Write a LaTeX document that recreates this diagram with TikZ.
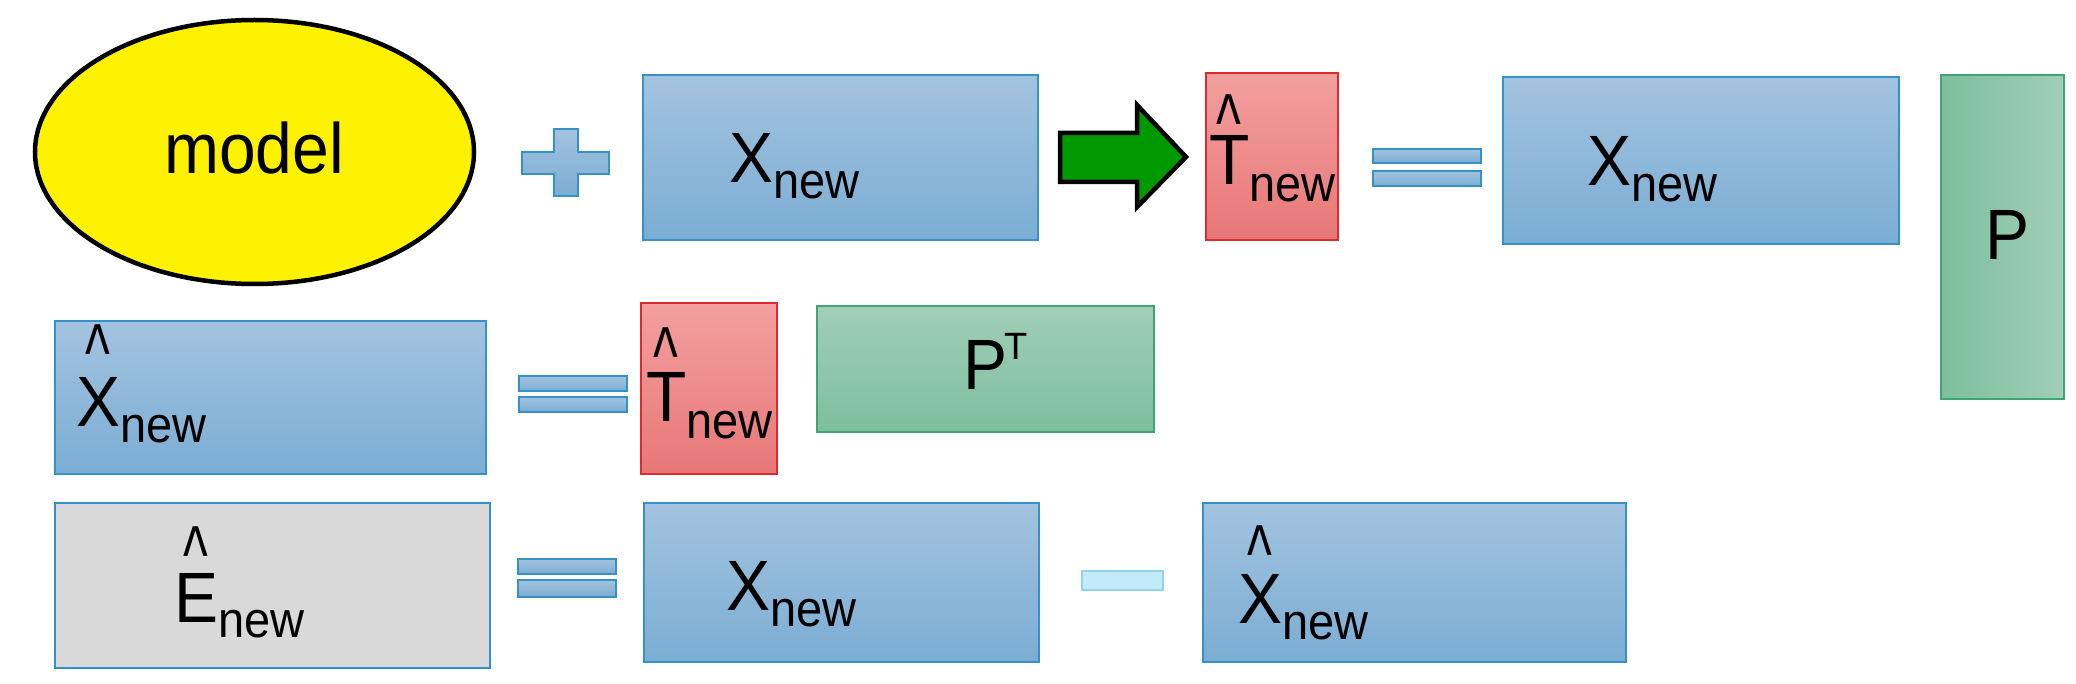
\documentclass[tikz,border=0pt]{standalone}
\usepackage{fontspec}
\setmainfont{Liberation Sans}
\usetikzlibrary{shapes.geometric}
\definecolor{bluetop}{HTML}{A3C3E0}
\definecolor{bluebot}{HTML}{7BADD3}
\definecolor{blueline}{HTML}{3592C6}
\definecolor{redtop}{HTML}{F2A09F}
\definecolor{redbot}{HTML}{E87777}
\definecolor{redline}{HTML}{DD2A2E}
\definecolor{greenlt}{HTML}{A1CEB7}
\definecolor{greendk}{HTML}{7DBF9D}
\definecolor{greenline}{HTML}{40A575}
\definecolor{graybox}{HTML}{D9D9D9}
\definecolor{minusfill}{HTML}{C2EAF9}
\definecolor{minusline}{HTML}{8FD3EE}
\definecolor{arrowgreen}{HTML}{009900}
\newcommand{\sub}[1]{\raisebox{-16pt}{\fontsize{47}{47}\selectfont\scalebox{1}[1.08]{#1}}}
\newcommand{\hatted}[2][0.6em]{\ooalign{\scalebox{1}[1.08]{#2}\cr\hidewidth\raisebox{#1}{\scalebox{0.8}[1.25]{\char"5E}}\hidewidth\cr}}
\begin{document}
\begin{tikzpicture}[x=1pt,y=-1pt,
  box/.style={rectangle, draw, line width=2pt, inner sep=0pt},
  bluebox/.style={box, draw=blueline, top color=bluetop, bottom color=bluebot},
  redbox/.style={box, draw=redline, top color=redtop, bottom color=redbot},
  greenbox/.style={box, draw=greenline, top color=greenlt, bottom color=greendk},
  greenvbox/.style={box, draw=greenline, left color=greendk, right color=greenlt},
  graybox/.style={box, draw=blueline, fill=graybox},
  bar/.style={draw=blueline, line width=1.5pt, top color=bluetop, bottom color=bluebot},
  txt/.style={anchor=base west, inner sep=0pt, font=\fontsize{66}{70}\selectfont}]
\useasboundingbox (0,0) rectangle (2076,684);
\fill[white] (0,0) rectangle (2076,684);

% row 1
\node[ellipse, draw=black, line width=4.5pt, fill=yellow, minimum width=439pt, minimum height=264pt, inner sep=0pt] (model) at (254.5,152) {};
\node[anchor=base, inner sep=0pt, font=\fontsize{66}{70}\selectfont] (tmodel) at (254,174) {\scalebox{1}[1.08]{model}};

\path[bar] (554,129) -- (578,129) -- (578,152) -- (609,152) -- (609,174) -- (578,174) -- (578,196) -- (554,196) -- (554,174) -- (522,174) -- (522,152) -- (554,152) -- cycle;

\node[bluebox, minimum width=395pt, minimum height=165pt] (b1) at (840.5,157.5) {};
\node[txt] (txn1) at (729,183) {\scalebox{1}[1.08]{X}\sub{new}};

\draw[line width=4.5pt, fill=arrowgreen, line join=miter] (1060,133) -- (1137,133) -- (1137,105) -- (1186,157) -- (1137,207) -- (1137,182) -- (1060,182) -- cycle;

\node[redbox, minimum width=132pt, minimum height=167pt] (r1) at (1272,156.5) {};
\node[txt] (tth1) at (1209,185) {\hatted[0.5em]{T}\raisebox{-1pt}{\sub{new}}};

\path[bar] (1373,149) rectangle (1481,163);
\path[bar] (1373,171) rectangle (1481,186);

\node[bluebox, minimum width=396pt, minimum height=167pt] (b2) at (1701,160.5) {};
\node[txt] (txn2) at (1587,186) {\scalebox{1}[1.08]{X}\sub{new}};

\node[greenvbox, minimum width=123pt, minimum height=324pt] (p) at (2002.5,237) {};
\node[anchor=base, inner sep=0pt, font=\fontsize{66}{70}\selectfont] (tp) at (2007,260) {\scalebox{1}[1.08]{P}};

% row 2
\node[bluebox, minimum width=431pt, minimum height=153pt] (b3) at (270.5,397.5) {};
\node[txt] (txh) at (76,426) {\hatted[0.67em]{X}\sub{new}};

\path[bar] (519,376) rectangle (627,391);
\path[bar] (519,397) rectangle (627,412);

\node[redbox, minimum width=136pt, minimum height=171pt] (r2) at (709,388.5) {};
\node[txt] (tth2) at (646,421) {\hatted[0.56em]{T}\raisebox{-1pt}{\sub{new}}};

\node[greenbox, minimum width=337pt, minimum height=126pt] (pt) at (985.5,369) {};
\node[txt] (tpt) at (963,389) {\scalebox{1}[1.08]{P}\kern-3pt\raisebox{30pt}{\fontsize{38}{38}\selectfont T}};

% row 3
\node[graybox, minimum width=435pt, minimum height=165pt] (g) at (272.5,585.5) {};
\node[txt] (teh) at (174,622) {\hatted[0.58em]{E}\raisebox{1pt}{\sub{new}}};

\path[bar] (518,559) rectangle (616,574);
\path[bar] (518,580) rectangle (616,597);

\node[bluebox, minimum width=395pt, minimum height=159pt] (b4) at (841.5,582.5) {};
\node[txt] (txn3) at (726,610) {\scalebox{1}[1.08]{X}\sub{new}};

\path[draw=minusline, line width=1.5pt, fill=minusfill] (1082,571) rectangle (1163,590);

\node[bluebox, minimum width=423pt, minimum height=159pt] (b5) at (1414.5,582.5) {};
\node[txt] (txh3) at (1238,623) {\hatted[0.62em]{X}\sub{new}};
\end{tikzpicture}
\end{document}
